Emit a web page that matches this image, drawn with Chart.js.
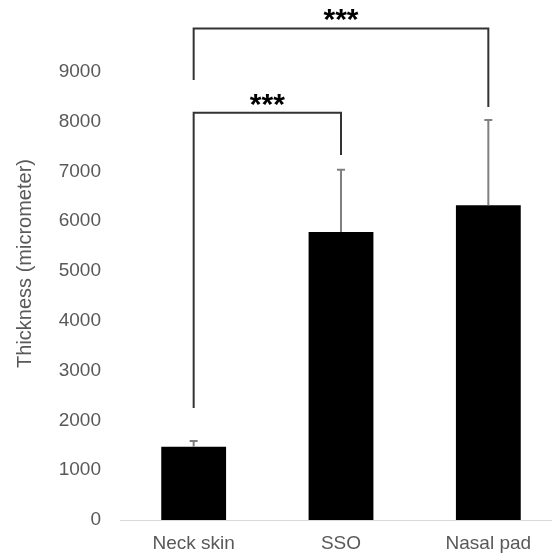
<!DOCTYPE html>
<html>
<head>
<meta charset="utf-8">
<script src="https://cdn.jsdelivr.net/npm/chart.js@4"></script>
<style>
  html, body { margin: 0; padding: 0; background: #fff; overflow: hidden; }
  #wrap { width: 562px; height: 556px; }
</style>
</head>
<body>
<div id="wrap"><canvas id="chart"></canvas></div>
<script>
// Thickness per tissue (micrometer)
const categories = ['Neck skin', 'SSO', 'Nasal pad'];
const meanValues = [1470, 5780, 6320];
const errorValues = [115, 1250, 1710];
const tickValues = [0, 1000, 2000, 3000, 4000, 5000, 6000, 7000, 8000, 9000];

// significance brackets: from/to category index, bar height and leg ends (in data units)
const brackets = [
  { from: 0, to: 1, level: 8175, leftEnd: 2250, rightEnd: 7330, label: '***' },
  { from: 0, to: 2, level: 9870, leftEnd: 8835, rightEnd: 8290, label: '***' }
];

const FONT = "'Liberation Sans', Arial, sans-serif";

/**
 * Error bars (upper only) and significance brackets
 */
const overlayPlugin = {
  id: 'overlay',
  afterDatasetsDraw(chart) {
    const ctx = chart.ctx;
    const x = chart.scales.x;
    const y = chart.scales.y;
    ctx.save();

    // error bars
    ctx.strokeStyle = '#808080';
    ctx.lineWidth = 2;
    meanValues.forEach((v, i) => {
      const px = x.getPixelForValue(i);
      const top = y.getPixelForValue(v + errorValues[i]);
      ctx.beginPath();
      ctx.moveTo(px, y.getPixelForValue(v));
      ctx.lineTo(px, top);
      ctx.moveTo(px - 4, top);
      ctx.lineTo(px + 4, top);
      ctx.stroke();
    });

    // brackets
    ctx.strokeStyle = '#333333';
    ctx.lineWidth = 2;
    ctx.fillStyle = '#000';
    ctx.font = 'bold 30px ' + FONT;
    ctx.textAlign = 'center';
    ctx.textBaseline = 'alphabetic';
    brackets.forEach(b => {
      const x1 = x.getPixelForValue(b.from);
      const x2 = x.getPixelForValue(b.to);
      const py = y.getPixelForValue(b.level);
      ctx.beginPath();
      ctx.moveTo(x1, y.getPixelForValue(b.leftEnd));
      ctx.lineTo(x1, py);
      ctx.lineTo(x2, py);
      ctx.lineTo(x2, y.getPixelForValue(b.rightEnd));
      ctx.stroke();
      ctx.fillText(b.label, (x1 + x2) / 2, py + 1);
    });

    ctx.restore();
  }
};

new Chart(document.getElementById('chart'), {
  type: 'bar',
  data: {
    labels: categories,
    datasets: [{
      data: meanValues,
      backgroundColor: '#000000',
      borderWidth: 0,
      barPercentage: 0.44,
      categoryPercentage: 1
    }]
  },
  options: {
    responsive: true,
    maintainAspectRatio: false,
    animation: false,
    events: [],
    layout: { padding: { top: 7, left: 0, right: 0, bottom: 0 } },
    plugins: {
      legend: { display: false },
      tooltip: { enabled: false }
    },
    scales: {
      x: {
        grid: { display: false, drawTicks: false },
        border: { display: true, color: '#d9d9d9', width: 1 },
        ticks: {
          color: '#595959',
          padding: 12,
          maxRotation: 0,
          font: { family: FONT, size: 19 }
        },
        afterFit(scale) {
          scale.height = 36;
          scale.paddingLeft = 0;
          scale.paddingRight = 0;
        }
      },
      y: {
        min: 0,
        max: 10300,
        grid: { display: false, drawTicks: false },
        border: { display: false },
        afterBuildTicks(scale) {
          scale.ticks = tickValues.map(v => ({ value: v }));
        },
        afterFit(scale) {
          scale.width = 120;
          scale.paddingTop = 0;
          scale.paddingBottom = 0;
        },
        ticks: {
          color: '#595959',
          padding: 19,
          font: { family: FONT, size: 19 },
          callback: value => String(value)
        },
        title: {
          display: true,
          text: 'Thickness (micrometer)',
          color: '#595959',
          padding: { top: 13, bottom: 0 },
          font: { family: FONT, size: 20 }
        }
      }
    }
  },
  plugins: [overlayPlugin]
});
</script>
</body>
</html>
